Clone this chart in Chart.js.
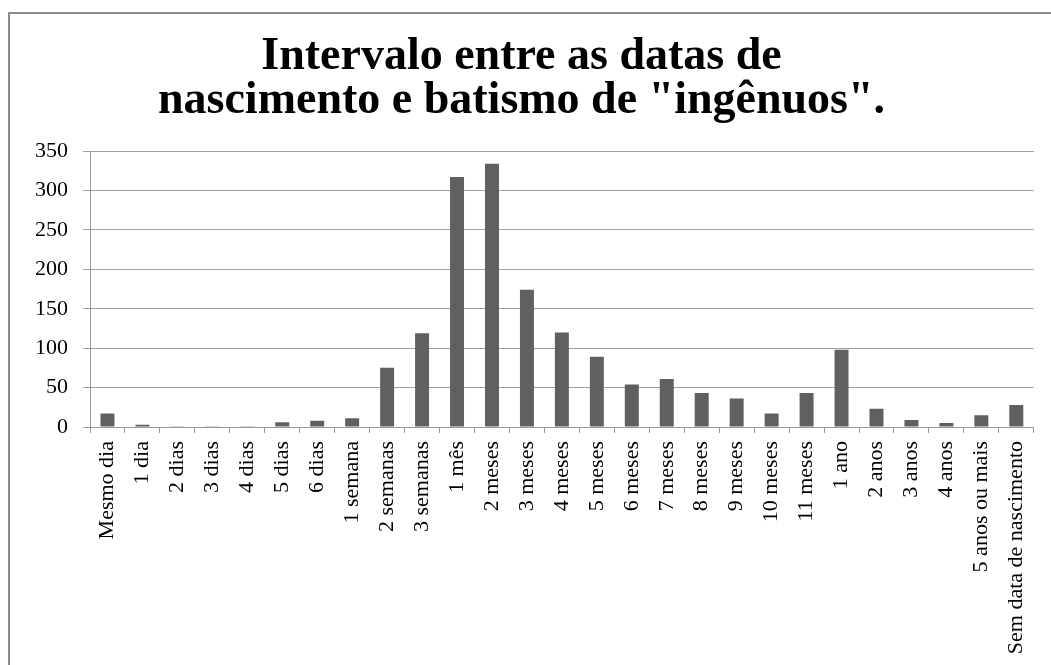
<!DOCTYPE html>
<html>
<head>
<meta charset="utf-8">
<script src="https://cdn.jsdelivr.net/npm/chart.js@4/dist/chart.umd.min.js"></script>
<style>
  html, body { margin: 0; padding: 0; background: #ffffff; overflow: hidden; }
  #frame { position: absolute; left: 8px; top: 12px; width: 1100px; height: 700px; border: 2px solid #8c8c8c; box-sizing: border-box; }
  #wrap { position: absolute; left: 0; top: 0; width: 1051px; height: 665px; }
</style>
</head>
<body>
<div id="frame"></div>
<div id="wrap"><canvas id="c" width="1051" height="665"></canvas></div>
<script>
const titleLines = ['Intervalo entre as datas de', 'nascimento e batismo de "ingênuos".'];
const categories = ['Mesmo dia', '1 dia', '2 dias', '3 dias', '4 dias', '5 dias', '6 dias', '1 semana', '2 semanas', '3 semanas', '1 mês', '2 meses', '3 meses', '4 meses', '5 meses', '6 meses', '7 meses', '8 meses', '9 meses', '10 meses', '11 meses', '1 ano', '2 anos', '3 anos', '4 anos', '5 anos ou mais', 'Sem data de nascimento'];
const counts = [17, 3, 1, 1, 1, 6, 8, 11, 75, 119, 317, 334, 174, 120, 89, 54, 61, 43, 36, 17, 43, 98, 23, 9, 5, 15, 28];
const yMin = 0, yMax = 350, yStep = 50;

const serif = "'Liberation Serif', 'Times New Roman', serif";

new Chart(document.getElementById('c'), {
  type: 'bar',
  data: {
    labels: categories,
    datasets: [{
      data: counts,
      backgroundColor: '#606060',
      borderWidth: 0,
      barPercentage: 0.4,
      categoryPercentage: 1.0
    }]
  },
  options: {
    responsive: false,
    animation: false,
    devicePixelRatio: 1,
    layout: { padding: { left: 8, right: 16, top: 0, bottom: 0 } },
    plugins: {
      legend: { display: false },
      tooltip: { enabled: false },
      title: {
        display: true,
        text: titleLines,
        color: '#000000',
        font: { family: serif, size: 46, weight: 'bold', lineHeight: 0.957 },
        padding: { top: 35, bottom: 28 }
      }
    },
    scales: {
      x: {
        grid: { drawOnChartArea: false, drawTicks: true, tickLength: 6, color: '#9a9a9a', offset: true },
        border: { display: true, color: '#9a9a9a', width: 1 },
        ticks: {
          color: '#000000',
          font: { family: serif, size: 22 },
          minRotation: 90, maxRotation: 90,
          autoSkip: false,
          padding: 8
        },
        afterFit: (s) => { s.height = 238; }
      },
      y: {
        min: yMin, max: yMax,
        grid: { color: '#a0a0a0', tickLength: 7, drawTicks: true },
        border: { display: true, color: '#9a9a9a', width: 1 },
        ticks: {
          stepSize: yStep,
          color: '#000000',
          font: { family: serif, size: 22 },
          padding: 15
        },
        afterFit: (s) => { s.width = 82; }
      }
    }
  }
});
</script>
</body>
</html>
